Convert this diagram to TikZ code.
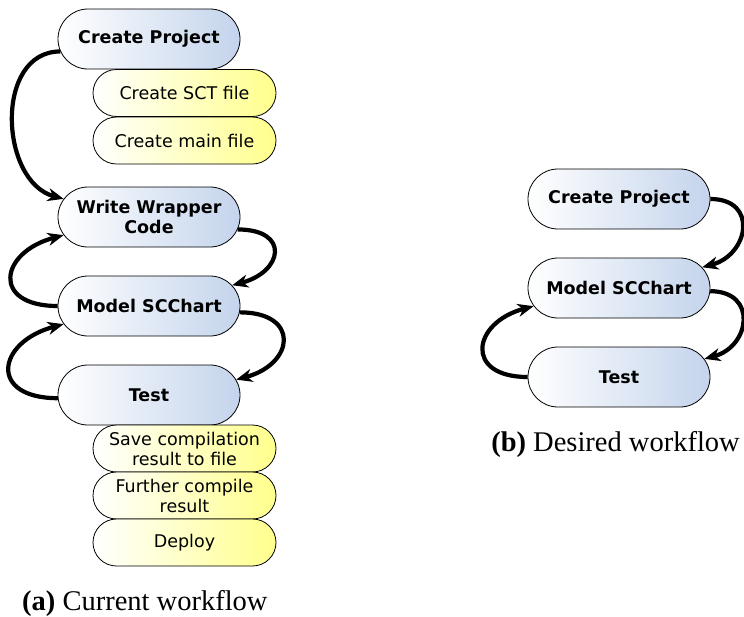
\documentclass[tikz,border=0pt]{standalone}
\usepackage{fontspec}
\setmainfont{Liberation Serif}
\newfontfamily\nodefont{DejaVu Sans}
\usetikzlibrary{shapes.misc,arrows.meta}

\definecolor{stepblue}{RGB}{196,212,236}
\definecolor{substepyellow}{RGB}{255,255,140}

\tikzset{
  mainstep/.style={rounded rectangle, draw=black, line width=0.8pt,
    left color=white, right color=stepblue,
    minimum width=182pt, minimum height=60pt, inner sep=0pt,
    align=center, font=\nodefont\bfseries\fontsize{17.5}{20}\selectfont},
  substep/.style={rounded rectangle, draw=black, line width=0.8pt,
    left color=white, right color=substepyellow,
    minimum width=183pt, minimum height=47pt, inner sep=0pt,
    align=center, font=\nodefont\fontsize{17.5}{20}\selectfont},
  flow/.style={line width=4.2pt, -{Stealth[length=16pt,width=13pt,inset=5pt]}},
  caption/.style={font=\fontsize{28.5}{32}\selectfont, inner sep=0pt}
}

\begin{document}
\begin{tikzpicture}[x=1pt,y=-1pt]
\useasboundingbox (0,0) rectangle (744,616);

% current workflow
\node[mainstep] (cp) at (149,39) {Create Project};
\node[substep] (sct) at (184.5,93) {Create SCT file};
\node[substep] (mainf) at (184.5,140.5) {Create main file};
\node[mainstep] (ww) at (149,217) {Write Wrapper\\Code};
\node[mainstep] (ms) at (149,306) {Model SCChart};
\node[mainstep] (te) at (149,395) {Test};
\node[substep] (save) at (184.5,448.5) {Save compilation\\result to file};
\node[substep] (further) at (184.5,495.5) {Further compile\\result};
\node[substep] (deploy) at (184.5,542.5) {Deploy};

\draw[flow] (cp.188) to[out=180,in=165,looseness=1.15] (ww.168);
\draw[flow] (ms.west) to[out=180,in=195,looseness=2.4] (ww.192);
\draw[flow] (ww.-8) to[out=0,in=15,looseness=2.4] (ms.14);
\draw[flow] (ms.-4) to[out=0,in=15,looseness=2.3] (te.10);
\draw[flow] (te.182) to[out=180,in=195,looseness=2.4] (ms.192);

\node[caption, anchor=base west] (capa) at (22,610) {\textbf{(a)} Current workflow};

% desired workflow
\node[mainstep] (rcp) at (619,199) {Create Project};
\node[mainstep] (rms) at (619,288) {Model SCChart};
\node[mainstep] (rte) at (619,377) {Test};

\draw[flow] (rcp.east) to[out=0,in=15,looseness=1.8] (rms.14);
\draw[flow] (rms.-2) to[out=0,in=15,looseness=1.8] (rte.12);
\draw[flow] (rte.west) to[out=180,in=195,looseness=2.3] (rms.192);

\node[caption, anchor=base east] (capb) at (740,451) {\textbf{(b)} Desired workflow};
\end{tikzpicture}
\end{document}
